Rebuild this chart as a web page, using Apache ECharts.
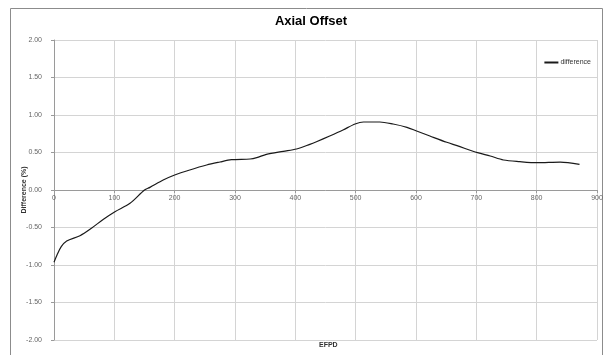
<!DOCTYPE html>
<html>
<head>
<meta charset="utf-8">
<script src="https://cdn.jsdelivr.net/npm/echarts@6/dist/echarts.min.js"></script>
<style>html,body{margin:0;padding:0;background:#fff}#c{width:612px;height:355px}</style>
</head>
<body>
<div id="c"></div>
<script>
const titleText = "Axial Offset";
const seriesName = "difference";
const xTitle = "EFPD";
const yTitle = "Difference (%)";
const efpd = [0, 5, 12, 21, 43, 62, 82, 101, 126, 150, 159, 181, 200, 225, 253, 275, 294, 325, 336, 352, 380, 402, 424, 435, 457, 479, 499, 513, 540, 562, 585, 601, 623, 651, 668, 702, 723, 745, 772, 801, 839, 871];
const difference = [-0.964, -0.867, -0.756, -0.68, -0.609, -0.51, -0.39, -0.289, -0.178, 0.0, 0.035, 0.133, 0.2, 0.267, 0.333, 0.373, 0.404, 0.413, 0.431, 0.475, 0.516, 0.547, 0.609, 0.644, 0.72, 0.8, 0.88, 0.907, 0.907, 0.88, 0.836, 0.787, 0.72, 0.636, 0.591, 0.498, 0.453, 0.4, 0.378, 0.364, 0.373, 0.342];

const font = "Liberation Sans Narrow, Liberation Sans, Arial, sans-serif";
const chart = echarts.init(document.getElementById('c'));
chart.setOption({
  animation: false,
  title: {
    text: titleText, left: 306, top: 10, textAlign: 'center',
    textStyle: {fontFamily: font, fontSize: 13, fontWeight: 'bold', color: '#000'}
  },
  legend: {
    data: [seriesName], right: 16, top: 54, itemWidth: 14, itemHeight: 2, itemGap: 2,
    icon: 'rect',
    textStyle: {fontFamily: font, fontSize: 7, color: '#333', padding: [0,0,0,-3]}
  },
  grid: {left: 54, right: 15, top: 40, bottom: 15},
  xAxis: {
    type: 'value', min: 0, max: 900, interval: 100, offset: -150,
    axisLine: {onZero: false, lineStyle: {color: '#9a9a9a', width: 1}},
    axisTick: {show: true, length: 3, lineStyle: {color: '#9a9a9a'}},
    axisLabel: {fontFamily: font, fontSize: 7, color: '#666', margin: 5},
    splitLine: {show: true, lineStyle: {color: '#d4d4d4', width: 1}}
  },
  yAxis: {
    type: 'value', min: -2, max: 2, interval: 0.5,
    name: yTitle, nameLocation: 'middle', nameRotate: 90, nameGap: 26, nameMoveOverlap: false,
    nameTextStyle: {fontFamily: font, fontSize: 7, fontWeight: 'bold', color: '#333'},
    axisLine: {show: true, onZero: false, lineStyle: {color: '#9a9a9a', width: 1}},
    axisTick: {show: true, length: 3, lineStyle: {color: '#9a9a9a'}},
    axisLabel: {fontFamily: font, fontSize: 7, color: '#666', margin: 12, formatter: v => v.toFixed(2)},
    splitLine: {show: true, lineStyle: {color: '#d4d4d4', width: 1}}
  },
  graphic: [
    {type: 'rect', shape: {x: 10.5, y: 8.5, width: 592, height: 360}, style: {fill: null, stroke: '#8c8c8c', lineWidth: 1}, silent: true, z: -1},
    {type: 'text', left: 319, top: 342, style: {text: xTitle, font: 'bold 7px ' + font, fill: '#333'}}
  ],
  series: [{
    name: seriesName, type: 'line', data: efpd.map((x, i) => [x, difference[i]]),
    showSymbol: false, smooth: 0.3,
    lineStyle: {color: '#1a1a1a', width: 1.2}, itemStyle: {color: '#1a1a1a'}
  }]
});
</script>
</body>
</html>
